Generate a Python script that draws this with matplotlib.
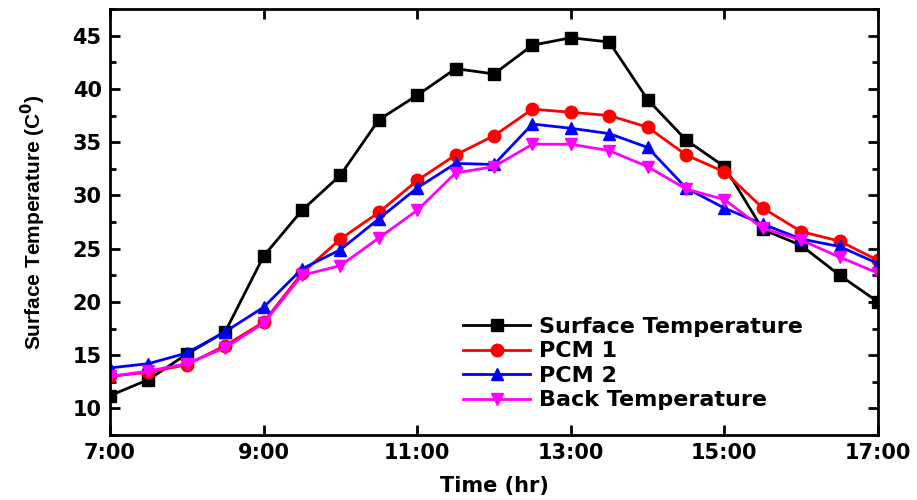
import matplotlib
matplotlib.use("Agg")
import matplotlib.pyplot as plt
from matplotlib.ticker import MultipleLocator, FuncFormatter

# half-hour steps from 7:00 to 17:00
hours = [7 + 0.5 * i for i in range(21)]
hour_ticks = [7, 9, 11, 13, 15, 17]

surface = [11.2, 12.7, 15.1, 17.2, 24.3, 28.6, 31.9, 37.1, 39.4, 41.9, 41.4,
           44.1, 44.8, 44.4, 39.0, 35.2, 32.7, 26.8, 25.3, 22.5, 20.0]
pcm1 = [13.0, 13.4, 14.1, 15.9, 18.1, 22.7, 25.9, 28.4, 31.4, 33.8, 35.6,
        38.1, 37.8, 37.5, 36.4, 33.8, 32.2, 28.8, 26.6, 25.7, 23.9]
pcm2 = [13.8, 14.2, 15.2, 17.2, 19.5, 23.1, 24.9, 27.8, 30.7, 33.0, 32.9,
        36.7, 36.3, 35.8, 34.5, 30.7, 28.8, 27.3, 25.9, 25.2, 23.6]
back = [13.0, 13.5, 14.2, 15.7, 18.0, 22.5, 23.4, 26.0, 28.6, 32.1, 32.7,
        34.8, 34.8, 34.2, 32.7, 30.6, 29.6, 26.9, 25.8, 24.2, 22.7]

plt.rcParams['font.family'] = ['DejaVu Sans']
plt.rcParams['font.weight'] = 'bold'

fig = plt.figure(figsize=(9.17, 5), dpi=100)
ax = fig.add_axes([0.12, 0.13, 0.8375, 0.852])

ax.plot(hours, surface, color='black', marker='s', ms=8, lw=2, label='Surface Temperature')
ax.plot(hours, pcm1, color='red', marker='o', ms=9, lw=2, label='PCM 1')
ax.plot(hours, pcm2, color='blue', marker='^', ms=9, lw=2, label='PCM 2')
ax.plot(hours, back, color='magenta', marker='v', ms=9, lw=2, label='Back Temperature')

ax.set_xlim(7, 17)
ax.set_ylim(7.5, 47.5)
ax.set_xticks(hour_ticks)
ax.xaxis.set_major_formatter(FuncFormatter(lambda v, p: "%d:00" % round(v)))
ax.yaxis.set_major_locator(MultipleLocator(5))
ax.yaxis.set_minor_locator(MultipleLocator(2.5))

ax.tick_params(which='both', direction='in', top=True, right=True, width=2)
ax.tick_params(which='major', length=7, labelsize=15, pad=6)
ax.tick_params(which='minor', length=4)
for lbl in ax.get_xticklabels() + ax.get_yticklabels():
    lbl.set_fontweight('bold')
for s in ax.spines.values():
    s.set_linewidth(2)

ax.set_xlabel("Time (hr)", fontsize=15, fontweight='bold', labelpad=9)
ax.set_ylabel("Surface Temperature (C$^0$)", fontsize=15, fontweight='bold',
              family=['Liberation Sans Narrow', 'Liberation Sans'], labelpad=18)

ax.legend(loc='upper left', bbox_to_anchor=(0.46, 0.277), frameon=False,
          prop={'size': 16, 'weight': 'bold'}, handlelength=3.0,
          handletextpad=0.4, labelspacing=0.2, borderpad=0, borderaxespad=0)

fig.savefig("out.png", dpi=100)
